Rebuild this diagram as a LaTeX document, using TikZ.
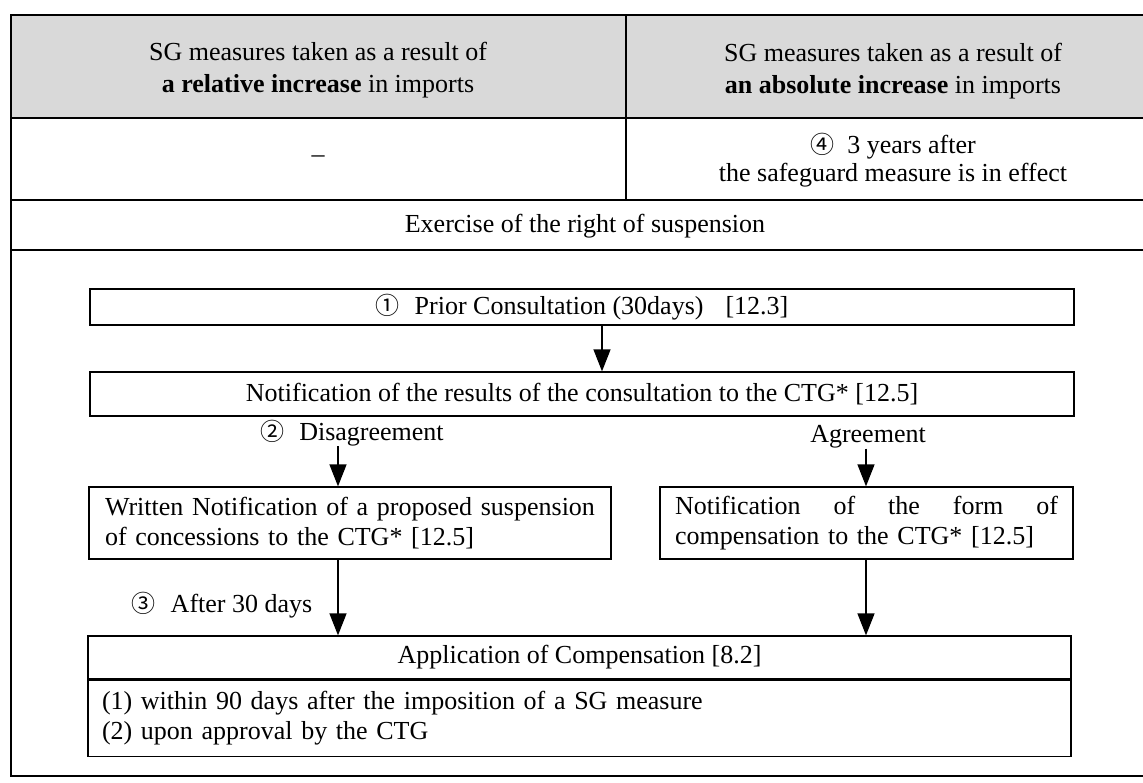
\documentclass[tikz,border=0pt]{standalone}
\usepackage{fontspec}
\setmainfont{Liberation Serif}
\newfontfamily\symf{Noto Sans CJK JP}[Scale=1]
\usetikzlibrary{arrows.meta}
\newcommand\circnum[1]{{\symf\fontsize{24}{24}\selectfont #1}}
\begin{document}
\begin{tikzpicture}[x=1pt,y=-1pt,
  every node/.style={font=\fontsize{26}{30}\selectfont, inner sep=0pt},
  tline/.style={line width=2.6pt},
  fbox/.style={draw, line width=1.3pt, inner xsep=15pt, inner ysep=0pt},
  arr/.style={line width=1.4pt, -{Triangle[width=17pt,length=22pt]}},
  hdr/.style={align=center, font=\fontsize{26}{32}\selectfont},
]
\useasboundingbox (0,0) rectangle (1143,782);
% table frame
\fill[black!15] (11,15) rectangle (1160,118);
\draw[tline] (11,15) rectangle (1160,776);
\draw[tline] (11,118) -- (1160,118);
\draw[tline] (11,200) -- (1160,200);
\draw[tline] (11,250) -- (1160,250);
\draw[tline] (626,15) -- (626,200);
% table texts
\node[hdr] (h1) at (318,70) {SG measures taken as a result of\\\textbf{a relative increase} in imports};
\node[hdr] (h2) at (893,71) {SG measures taken as a result of\\\textbf{an absolute increase} in imports};
\node (r2a) at (318,159) {–};
\node[align=center, font=\fontsize{26}{28}\selectfont] (r2b) at (893,160) {\circnum{④}\hspace{13pt}3 years after\\the safeguard measure is in effect};
\node (ex) at (585,226) {Exercise of the right of suspension};
% flow chart
\node[fbox, minimum width=984pt, minimum height=36pt] (prior) at (582,307)
  {\circnum{①}\hspace{15pt}Prior Consultation (30days)\hspace{22pt}[12.3]};
\node[fbox, minimum width=984pt, minimum height=44pt] (notif) at (582,394)
  {Notification of the results of the consultation to the CTG* [12.5]};
\node (dis) at (352,433) {\circnum{②}\hspace{15pt}Disagreement};
\node (agr) at (868,437) {Agreement};
\node[fbox, inner xsep=16pt, text width=490pt, align=left, minimum height=72pt] (susp) at (350,523)
  {Written Notification of a proposed suspension\\of concessions to the CTG* [12.5]};
\node[fbox, text width=383pt, align=left, minimum height=72pt] (form) at (866.5,523)
  {Notification\hfill of\hfill the\hfill form\hfill of\\compensation to the CTG* [12.5]};
\node (after) at (222,605) {\circnum{③}\hspace{15pt}After 30 days};
\node[fbox, minimum width=983pt, minimum height=43pt] (apptitle) at (579.5,657.5)
  {Application of Compensation [8.2]};
\node[fbox, inner xsep=14pt, text width=955pt, align=left, minimum height=76pt, anchor=north] (appbody) at (apptitle.south)
  {(1) within 90 days after the imposition of a SG measure\\(2) upon approval by the CTG};
% arrows
\coordinate (a1) at (602,0);
\coordinate (a2) at (338,0);
\coordinate (a3) at (866,0);
\draw[arr] (a1 |- prior.south) -- (a1 |- notif.north);
\draw[arr] (a2 |- dis.south) -- (a2 |- susp.north);
\draw[arr] (a3 |- agr.south) -- (a3 |- form.north);
\draw[arr] (a2 |- susp.south) -- (a2 |- apptitle.north);
\draw[arr] (a3 |- form.south) -- (a3 |- apptitle.north);
\end{tikzpicture}
\end{document}
